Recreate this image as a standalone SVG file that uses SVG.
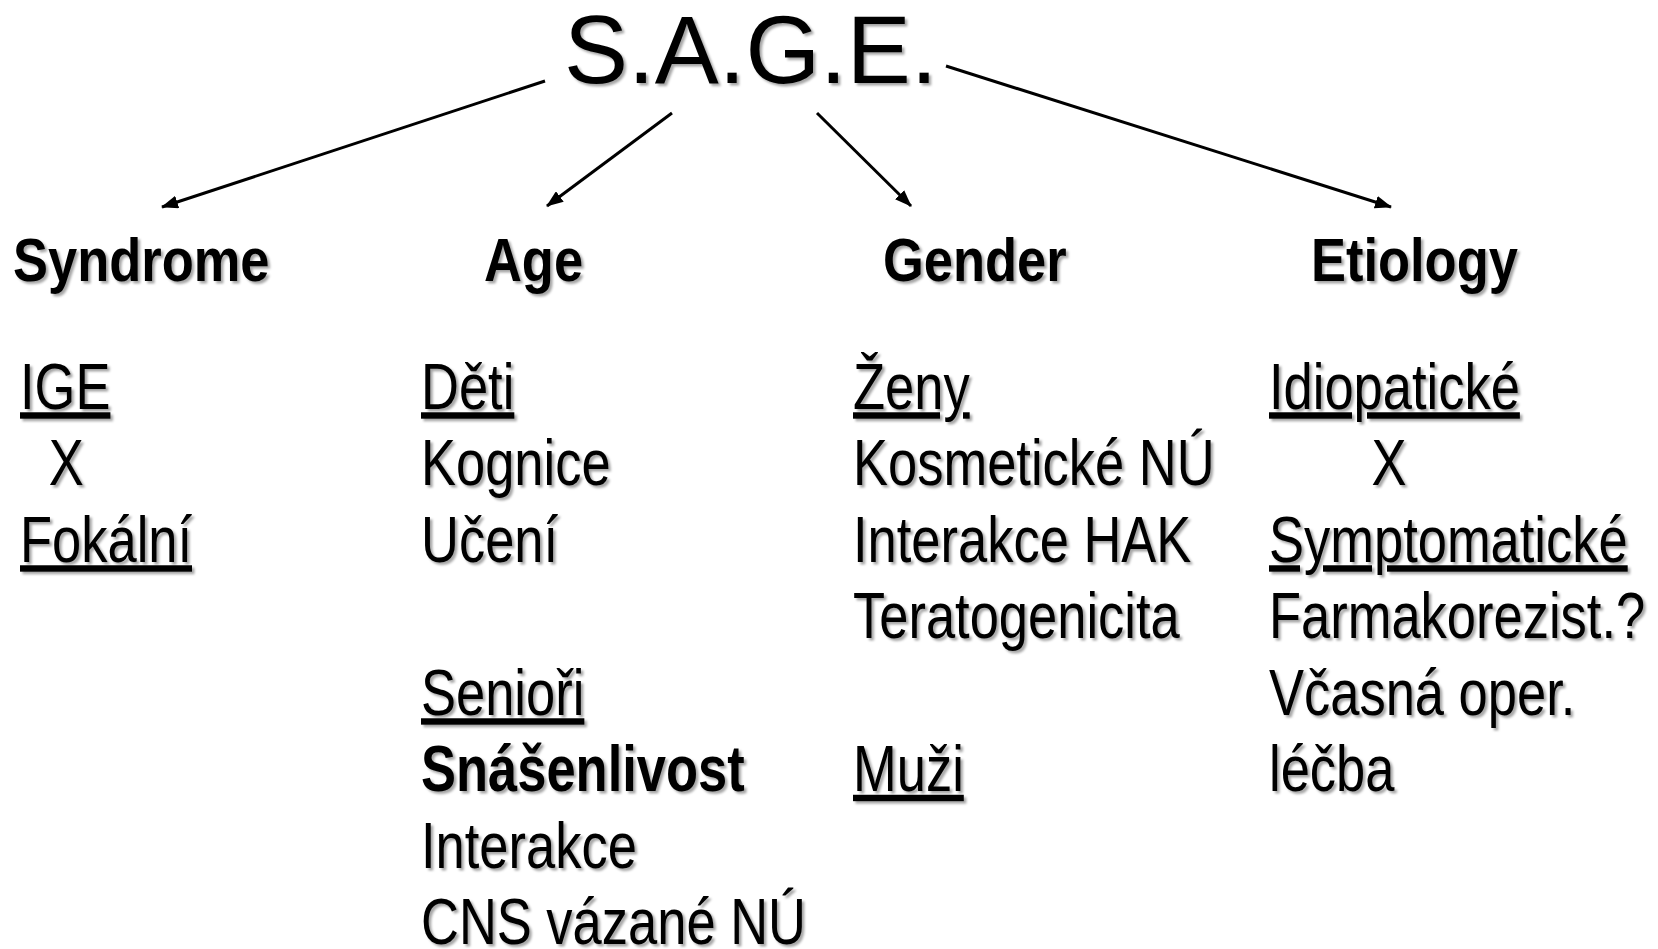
<svg xmlns="http://www.w3.org/2000/svg" width="1658" height="949" viewBox="0 0 1658 949">
  <defs>
    <style>
      text { font-family: "Liberation Sans", Arial, sans-serif; fill: #000; }
      .title { font-size: 96px; }
      .hdr { font-size: 61px; font-weight: bold; }
      .body { font-size: 64px; }
      .b { font-weight: bold; }
      .u { text-decoration: underline; }
      .conn { stroke: #000; stroke-width: 3; fill: none; }
      .shadow { filter: url(#sh); }
    </style>
    <filter id="sh" x="-5%" y="-5%" width="115%" height="125%">
      <feDropShadow dx="2.5" dy="2.5" stdDeviation="1.2" flood-color="#000" flood-opacity="0.35"/>
    </filter>
    <marker id="arrow" viewBox="0 0 17 13" refX="16" refY="6.5" markerWidth="17" markerHeight="13" markerUnits="userSpaceOnUse" orient="auto">
      <path d="M0,0 L17,6.5 L0,13 z" fill="#000"/>
    </marker>
  </defs>

  <g id="title" class="shadow">
    <text class="title" x="564" y="83">S.A.G.E.</text>
  </g>

  <g id="connectors">
    <line class="conn" x1="545" y1="81" x2="162" y2="207" marker-end="url(#arrow)"/>
    <line class="conn" x1="672" y1="113" x2="547" y2="206" marker-end="url(#arrow)"/>
    <line class="conn" x1="817" y1="113" x2="911" y2="206" marker-end="url(#arrow)"/>
    <line class="conn" x1="946" y1="66" x2="1391" y2="207" marker-end="url(#arrow)"/>
  </g>

  <g id="syndrome" class="shadow">
    <g transform="translate(13,0) scale(0.86,1)">
      <text class="hdr" x="0" y="281">Syndrome</text>
    </g>
    <g transform="translate(20,0) scale(0.82,1)">
      <text class="body u" x="0" y="409">IGE</text>
      <text class="body" x="35" y="485.5">X</text>
      <text class="body u" x="0" y="562">Fokální</text>
    </g>
  </g>

  <g id="age" class="shadow">
    <g transform="translate(484,0) scale(0.86,1)">
      <text class="hdr" x="0" y="281">Age</text>
    </g>
    <g transform="translate(421,0) scale(0.82,1)">
      <text class="body u" x="0" y="409">Děti</text>
      <text class="body" x="0" y="485.5">Kognice</text>
      <text class="body" x="0" y="562">Učení</text>
      <text class="body u" x="0" y="715">Senioři</text>
      <text class="body b" x="0" y="791.5">Snášenlivost</text>
      <text class="body" x="0" y="868">Interakce</text>
      <text class="body" x="0" y="944">CNS vázané NÚ</text>
    </g>
  </g>

  <g id="gender" class="shadow">
    <g transform="translate(883,0) scale(0.86,1)">
      <text class="hdr" x="0" y="281">Gender</text>
    </g>
    <g transform="translate(853,0) scale(0.82,1)">
      <text class="body u" x="0" y="409">Ženy</text>
      <text class="body" x="0" y="485.5">Kosmetické NÚ</text>
      <text class="body" x="0" y="562">Interakce HAK</text>
      <text class="body" x="0" y="638.5">Teratogenicita</text>
      <text class="body u" x="0" y="791.5">Muži</text>
    </g>
  </g>

  <g id="etiology" class="shadow">
    <g transform="translate(1311,0) scale(0.86,1)">
      <text class="hdr" x="0" y="281">Etiology</text>
    </g>
    <g transform="translate(1269,0) scale(0.82,1)">
      <text class="body u" x="0" y="409">Idiopatické</text>
      <text class="body" x="125" y="485.5">X</text>
      <text class="body u" x="0" y="562">Symptomatické</text>
      <text class="body" x="0" y="638.5">Farmakorezist.?</text>
      <text class="body" x="0" y="715">Včasná oper.</text>
      <text class="body" x="0" y="791.5">léčba</text>
    </g>
  </g>
</svg>
